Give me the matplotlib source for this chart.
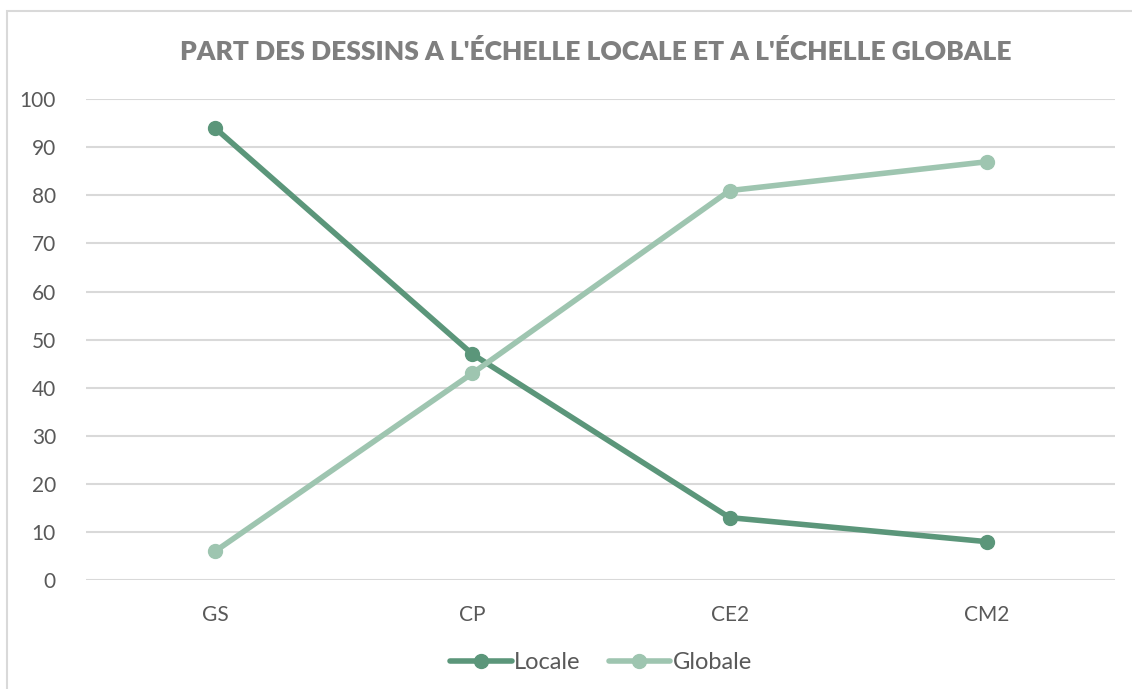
import matplotlib.pyplot as plt
from matplotlib.patches import Rectangle

# données
categories = ['GS', 'CP', 'CE2', 'CM2']
locale = [94, 47, 13, 8]
globale = [6, 43, 81, 87]
yticks = [0, 10, 20, 30, 40, 50, 60, 70, 80, 90, 100]

plt.rcParams['font.family'] = ['Lato', 'DejaVu Sans']

fig = plt.figure(figsize=(11.32, 6.89), dpi=100)
ax = fig.add_axes([0.0764, 0.158, 0.909, 0.698])

# cadre du graphique
fig.patches.append(Rectangle((7 / 1132, -0.1), 1.2, 1 - 11 / 689 + 0.1,
                             transform=fig.transFigure, fill=False,
                             edgecolor='#D9D9D9', linewidth=1.5))

x = range(len(categories))
ax.plot(x, locale, color='#5B967A', linewidth=4, marker='o', markersize=10,
        label='Locale', solid_capstyle='round')
ax.plot(x, globale, color='#9EC5B0', linewidth=4, marker='o', markersize=10,
        label='Globale', solid_capstyle='round')

ax.set_xlim(-0.5, 3.5)
ax.set_ylim(0, 100)
ax.set_yticks(yticks)
ax.set_xticks(list(x))
ax.set_xticklabels(categories)
ax.grid(axis='y', color='#D9D9D9', linewidth=1.5)
ax.set_axisbelow(True)
for s in ax.spines.values():
    s.set_visible(False)
ax.tick_params(length=0, labelsize=15, labelcolor='#595959')
ax.tick_params(axis='x', pad=18)
ax.tick_params(axis='y', pad=22)

fig.text(0.526, 0.925, "PART DES DESSINS A L'ÉCHELLE LOCALE ET A L'ÉCHELLE GLOBALE",
         ha='center', va='center', fontsize=19, fontweight='heavy', color='#7F7F7F')

ax.legend(loc='upper center', bbox_to_anchor=(0.5, -0.105), ncol=2, frameon=False,
          fontsize=17, labelcolor='#595959', handlelength=2.6, handletextpad=0.1,
          columnspacing=1.2)

fig.savefig('out.png', dpi=100)
